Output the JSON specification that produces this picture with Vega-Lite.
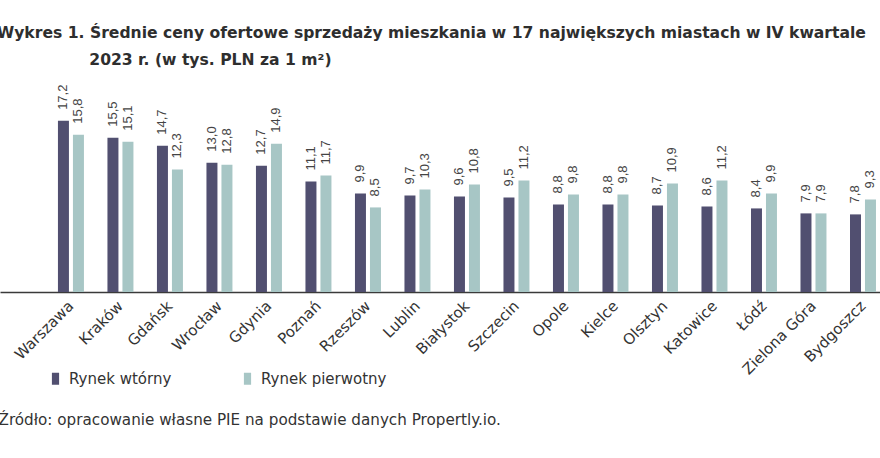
{
  "$schema": "https://vega.github.io/schema/vega-lite/v6.json",
  "width": 880,
  "height": 199,
  "autosize": {"type": "none"},
  "padding": {"left": 0, "top": 93, "right": 0, "bottom": 166},
  "background": "white",
  "title": {
    "text": [
      "Wykres 1.\u00a0Średnie ceny ofertowe sprzedaży mieszkania w 17 największych miastach w IV kwartale",
      "\u200b\u00a0\u00a0\u00a0\u00a0\u00a0\u00a0\u00a0\u00a0\u00a0\u00a0\u00a0\u00a0\u00a0\u00a0\u00a0\u00a0\u00a02023 r. (w tys. PLN za 1 m²)"
    ],
    "anchor": "start",
    "frame": "group",
    "dx": -3,
    "dy": 25,
    "font": "DejaVu Sans",
    "fontSize": 15.6,
    "fontWeight": "bold",
    "color": "#2e2e2e",
    "lineHeight": 27,
    "baseline": "alphabetic",
    "offset": 29
  },
  "data": {
    "values": [
      {"miasto": "Warszawa", "rynek": "Rynek wtórny", "cena": 17.2},
      {"miasto": "Warszawa", "rynek": "Rynek pierwotny", "cena": 15.8},
      {"miasto": "Kraków", "rynek": "Rynek wtórny", "cena": 15.5},
      {"miasto": "Kraków", "rynek": "Rynek pierwotny", "cena": 15.1},
      {"miasto": "Gdańsk", "rynek": "Rynek wtórny", "cena": 14.7},
      {"miasto": "Gdańsk", "rynek": "Rynek pierwotny", "cena": 12.3},
      {"miasto": "Wrocław", "rynek": "Rynek wtórny", "cena": 13.0},
      {"miasto": "Wrocław", "rynek": "Rynek pierwotny", "cena": 12.8},
      {"miasto": "Gdynia", "rynek": "Rynek wtórny", "cena": 12.7},
      {"miasto": "Gdynia", "rynek": "Rynek pierwotny", "cena": 14.9},
      {"miasto": "Poznań", "rynek": "Rynek wtórny", "cena": 11.1},
      {"miasto": "Poznań", "rynek": "Rynek pierwotny", "cena": 11.7},
      {"miasto": "Rzeszów", "rynek": "Rynek wtórny", "cena": 9.9},
      {"miasto": "Rzeszów", "rynek": "Rynek pierwotny", "cena": 8.5},
      {"miasto": "Lublin", "rynek": "Rynek wtórny", "cena": 9.7},
      {"miasto": "Lublin", "rynek": "Rynek pierwotny", "cena": 10.3},
      {"miasto": "Białystok", "rynek": "Rynek wtórny", "cena": 9.6},
      {"miasto": "Białystok", "rynek": "Rynek pierwotny", "cena": 10.8},
      {"miasto": "Szczecin", "rynek": "Rynek wtórny", "cena": 9.5},
      {"miasto": "Szczecin", "rynek": "Rynek pierwotny", "cena": 11.2},
      {"miasto": "Opole", "rynek": "Rynek wtórny", "cena": 8.8},
      {"miasto": "Opole", "rynek": "Rynek pierwotny", "cena": 9.8},
      {"miasto": "Kielce", "rynek": "Rynek wtórny", "cena": 8.8},
      {"miasto": "Kielce", "rynek": "Rynek pierwotny", "cena": 9.8},
      {"miasto": "Olsztyn", "rynek": "Rynek wtórny", "cena": 8.7},
      {"miasto": "Olsztyn", "rynek": "Rynek pierwotny", "cena": 10.9},
      {"miasto": "Katowice", "rynek": "Rynek wtórny", "cena": 8.6},
      {"miasto": "Katowice", "rynek": "Rynek pierwotny", "cena": 11.2},
      {"miasto": "Łódź", "rynek": "Rynek wtórny", "cena": 8.4},
      {"miasto": "Łódź", "rynek": "Rynek pierwotny", "cena": 9.9},
      {"miasto": "Zielona Góra", "rynek": "Rynek wtórny", "cena": 7.9},
      {"miasto": "Zielona Góra", "rynek": "Rynek pierwotny", "cena": 7.9},
      {"miasto": "Bydgoszcz", "rynek": "Rynek wtórny", "cena": 7.8},
      {"miasto": "Bydgoszcz", "rynek": "Rynek pierwotny", "cena": 9.3}
    ]
  },
  "encoding": {
    "x": {
      "field": "miasto",
      "type": "nominal",
      "sort": null,
      "scale": {"paddingInner": 0.475, "paddingOuter": 0.626, "align": 0.935, "round": false},
      "axis": {
        "title": "Źródło: opracowanie własne PIE na podstawie danych Propertly.io.",
        "titleFont": "DejaVu Sans",
        "titleFontSize": 15.2,
        "titleFontWeight": "normal",
        "titleColor": "#333333",
        "titleX": -2,
        "titleY": 132,
        "titleAlign": "left",
        "titleBaseline": "alphabetic",
        "labelAngle": -45,
        "labelAlign": "right",
        "labelBaseline": "middle",
        "labelPadding": 11,
        "labelFont": "DejaVu Sans",
        "labelFontSize": 15,
        "labelColor": "#333333",
        "labelOverlap": false,
        "ticks": false,
        "grid": false,
        "domainColor": "#3a3a3a",
        "domainWidth": 1.5
      }
    },
    "xOffset": {
      "field": "rynek",
      "type": "nominal",
      "scale": {"domain": ["Rynek wtórny", "Rynek pierwotny"], "paddingInner": 0.267, "paddingOuter": 0}
    },
    "y": {
      "field": "cena",
      "type": "quantitative",
      "scale": {"domain": [0, 20], "nice": false},
      "axis": null
    }
  },
  "layer": [
    {
      "mark": {"type": "bar"},
      "encoding": {
        "color": {
          "field": "rynek",
          "type": "nominal",
          "scale": {"domain": ["Rynek wtórny", "Rynek pierwotny"], "range": ["#514f70", "#a7c6c5"]},
          "legend": {
            "orient": "none",
            "legendX": 48,
            "legendY": 278,
            "direction": "horizontal",
            "title": null,
            "symbolType": "M-0.6,-1H0.6V1H-0.6Z",
            "symbolSize": 144,
            "symbolStrokeWidth": 0,
            "labelFont": "DejaVu Sans",
            "labelFontSize": 15,
            "labelColor": "#333333",
            "labelOffset": 6,
            "columnPadding": 68
          }
        }
      }
    },
    {
      "mark": {
        "type": "text",
        "angle": 270,
        "align": "left",
        "baseline": "middle",
        "dx": 11,
        "font": "Liberation Sans",
        "fontSize": 13,
        "color": "#444444"
      },
      "encoding": {
        "text": {"field": "cena", "type": "quantitative", "format": ".1f"}
      }
    }
  ],
  "config": {
    "view": {"stroke": null},
    "locale": {
      "number": {"decimal": ",", "thousands": "\u00a0", "grouping": [3], "currency": ["", " zł"]}
    }
  }
}
